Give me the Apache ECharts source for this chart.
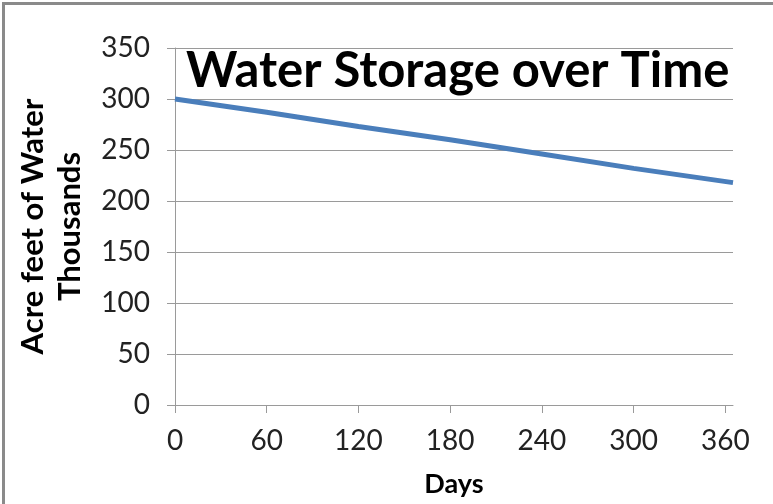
<!DOCTYPE html>
<html>
<head>
<meta charset="utf-8">
<script src="https://cdn.jsdelivr.net/npm/echarts@6/dist/echarts.min.js"></script>
<style>
html,body{margin:0;padding:0;background:#fff;}
#c{width:773px;height:504px;}
</style>
</head>
<body>
<div id="c"></div>
<script>
var days = [0, 60, 120, 180, 240, 300, 365];
var storage = [300, 287, 273, 260, 246, 232, 218];
var xTicks = [0, 60, 120, 180, 240, 300, 360];
var yTicks = [0, 50, 100, 150, 200, 250, 300, 350];

var chart = echarts.init(document.getElementById('c'));
var font = 'Lato';
chart.setOption({
  animation: false,
  backgroundColor: '#fff',
  title: {
    text: 'Water Storage over Time',
    left: 181, top: 42,
    textStyle: {fontFamily: font, fontWeight: 'bold', fontSize: 49, color: '#000'}
  },
  grid: {left: 175, right: 40, top: 48, bottom: 99, containLabel: false, outerBoundsMode: 'none'},
  xAxis: {
    type: 'value', min: 0, max: 365, interval: 60,
    name: 'Days', nameLocation: 'middle', nameGap: 66,
    nameTextStyle: {fontFamily: font, fontWeight: 'bold', fontSize: 27, color: '#000'},
    axisLine: {show: true, lineStyle: {color: '#9a9a9a', width: 1}},
    axisTick: {show: true, length: 8, lineStyle: {color: '#9a9a9a'}},
    axisLabel: {fontFamily: font, fontSize: 28, color: '#222', margin: 22, showMaxLabel: false,
      formatter: function(v){ return xTicks.indexOf(v) >= 0 ? String(v) : ''; }},
    splitLine: {show: false}
  },
  yAxis: {
    type: 'value', min: 0, max: 350, interval: 50,
    name: 'Acre feet of Water\nThousands', nameLocation: 'middle', nameGap: 87, nameRotate: 90,
    nameTextStyle: {fontFamily: font, fontWeight: 'bold', fontSize: 31, color: '#000', lineHeight: 37},
    axisLine: {show: true, lineStyle: {color: '#9a9a9a', width: 1}},
    axisTick: {show: true, length: 8, lineStyle: {color: '#9a9a9a'}},
    axisLabel: {fontFamily: font, fontSize: 28, color: '#222', margin: 25,
      formatter: function(v){ return yTicks.indexOf(v) >= 0 ? String(v) : ''; }},
    splitLine: {show: true, lineStyle: {color: '#9a9a9a', width: 1}}
  },
  series: [{
    type: 'line',
    data: days.map(function(d, i){ return [d, storage[i]]; }),
    showSymbol: false,
    lineStyle: {color: '#4a7ebb', width: 5},
    itemStyle: {color: '#4a7ebb'}
  }],
  graphic: [
    {type: 'rect', shape: {x: 2, y: 2, width: 3, height: 502}, style: {fill: '#8a8a8a'}, silent: true},
    {type: 'rect', shape: {x: 2, y: 2, width: 771, height: 3}, style: {fill: '#8a8a8a'}, silent: true}
  ]
});
</script>
</body>
</html>
